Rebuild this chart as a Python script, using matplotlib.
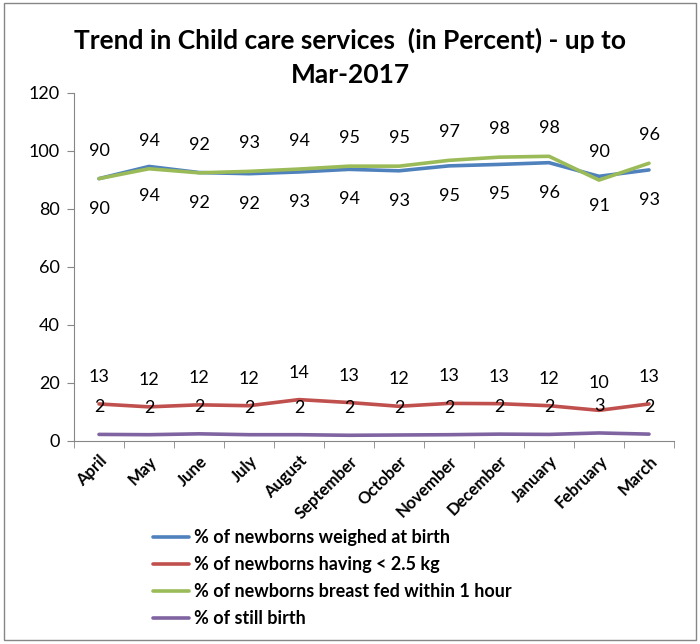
import matplotlib
matplotlib.use("Agg")
import matplotlib.pyplot as plt
import matplotlib.patches as patches
import numpy as np

plt.rcParams['font.family'] = ['Lato', 'DejaVu Sans']

MONTHS = ["April", "May", "June", "July", "August", "September", "October",
          "November", "December", "January", "February", "March"]
WEIGHED = [90.3, 94.5, 92.4, 92.0, 92.6, 93.5, 93.0, 94.7, 95.2, 95.8, 91.1, 93.3]
LOW_WEIGHT = [12.6, 11.6, 12.3, 12.0, 14.1, 13.1, 11.8, 12.8, 12.7, 12.0, 10.4, 12.6]
BREAST_FED = [90.3, 93.7, 92.3, 92.8, 93.6, 94.6, 94.6, 96.6, 97.7, 98.0, 89.8, 95.6]
STILL_BIRTH = [2.1, 2.0, 2.3, 2.0, 2.0, 1.8, 1.9, 2.0, 2.2, 2.1, 2.6, 2.2]

SERIES = [
    ("% of newborns weighed at birth", WEIGHED, "#4F81BD", -30),
    ("% of newborns having < 2.5 kg", LOW_WEIGHT, "#C0504D", 27),
    ("% of newborns breast fed within 1 hour", BREAST_FED, "#9BBB59", 28),
    ("% of still birth", STILL_BIRTH, "#8064A2", 27),
]

fig = plt.figure(figsize=(7, 6.44), dpi=100)
ax = fig.add_axes([74 / 700, 1 - 440.5 / 644, 600 / 700, 348 / 644])

x = np.arange(len(MONTHS))
for label, values, color, offset in SERIES:
    ax.plot(x, values, color=color, lw=2.6, label=label, solid_capstyle='round')
    for xi, v in zip(x, values):
        ax.annotate(f"{v:.0f}", (xi, v), xytext=(0, offset), textcoords='offset pixels',
                    ha='center', va='center', fontsize=13, color='black')

ax.set_xlim(-0.5, len(MONTHS) - 0.5)
ax.set_ylim(0, 120)
ax.set_yticks(range(0, 121, 20))
ax.tick_params(axis='y', labelsize=13, length=5, color='#868686', pad=5)
ax.set_xticks(x)
ax.set_xticklabels(MONTHS, rotation=45, ha='right', rotation_mode='anchor',
                   fontsize=12, fontweight='bold')
ax.set_xticks(np.arange(-0.5, len(MONTHS)), minor=True)
ax.tick_params(axis='x', which='major', length=0, pad=9)
ax.tick_params(axis='x', which='minor', length=5, color='#868686')
for side in ['top', 'right']:
    ax.spines[side].set_visible(False)
for side in ['left', 'bottom']:
    ax.spines[side].set_color('#868686')

fig.text(0.5, 1 - 40 / 644, "Trend in Child care services  (in Percent) - up to",
         ha='center', va='center', fontsize=19, fontweight='bold')
fig.text(0.5, 1 - 75 / 644, "Mar-2017", ha='center', va='center',
         fontsize=19, fontweight='bold')

handles, labels = ax.get_legend_handles_labels()
fig.legend(handles, labels, loc='upper left', bbox_to_anchor=(146 / 700, 1 - 522 / 644),
           frameon=False, prop={'weight': 'bold', 'size': 13}, handlelength=2.0,
           handletextpad=0.25, labelspacing=0.55, borderaxespad=0)

fig.patches.append(patches.Rectangle((4 / 700, 4 / 644), 692 / 700, 637 / 644,
                                     transform=fig.transFigure, fill=False,
                                     edgecolor='#868686', lw=1))

fig.savefig("out.png", dpi=100)
